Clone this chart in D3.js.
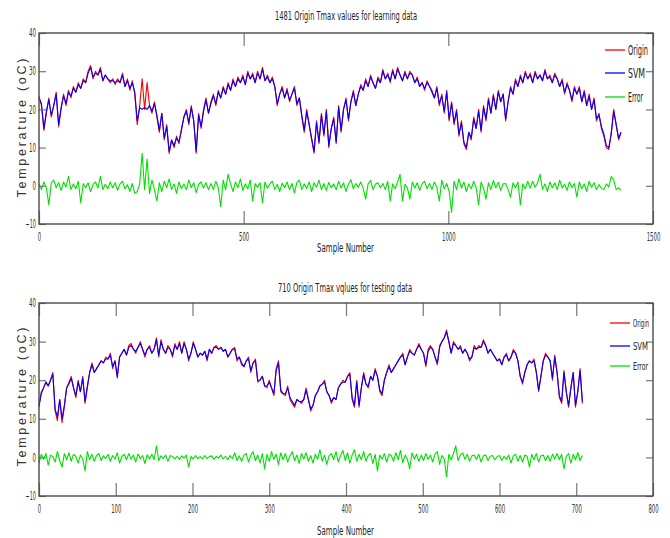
<!DOCTYPE html>
<html>
<head>
<meta charset="utf-8">
<script src="https://cdn.jsdelivr.net/npm/d3@7"></script>
<style>
  body { margin: 0; background: #fff; }
  svg { display: block; }
</style>
</head>
<body>
<svg id="chart" width="670" height="538"></svg>
<script>
// learning data: one value every 6 samples (0..1422)
const learnStep = 6;
const learnOrigin = [
  23.5, 21, 14.5, 19, 23, 18, 21, 24.5, 15.5, 20,
  24, 21, 25, 23, 26, 24.5, 27, 25.5, 28, 27,
  30, 31.5, 28, 30, 29, 31, 27.5, 29, 28, 27,
  28, 26.5, 28, 27, 29.5, 26, 28, 25, 27.5, 24,
  16, 21, 28, 20, 27, 21, 19, 22, 18, 14,
  19, 12, 16, 8.5, 12, 10, 13, 11, 15, 18,
  20, 16, 21, 17, 8.5, 19, 15, 20, 23, 19,
  22, 24, 21, 25, 23, 26, 24, 27, 25, 28,
  26, 28.5, 27, 29, 26.5, 30, 28, 29.5, 27, 30,
  28, 31, 27.5, 29, 27, 28.5, 26, 21, 24, 26,
  23, 25.5, 22, 24, 26, 21, 23, 18, 14, 20,
  16, 12, 8.5, 17, 11, 19, 13, 20, 10, 15,
  18, 11, 21, 14, 20, 23, 17, 22, 25, 21,
  24, 26.5, 25, 28, 26, 29, 27, 25.5, 28.5, 27,
  30.5, 28, 29.5, 27, 30.5, 28, 31, 29, 27.5, 30,
  28, 30, 29, 27, 28.5, 26, 27, 25, 27.5, 26,
  25, 23, 26, 21, 24, 19, 25, 17, 22, 16,
  20, 13, 17, 11, 9.5, 14, 12, 18, 15, 20,
  14, 21, 17, 23, 19, 24, 20, 25, 22, 24,
  17, 22, 26, 24, 28, 26, 29, 27, 30, 28,
  29.5, 27, 30, 28, 29, 27.5, 30.5, 28, 29, 27,
  29.5, 28, 26, 28, 24, 27, 25, 22, 26, 24,
  26, 22, 25, 21, 24, 20, 23, 17, 19, 15,
  13, 10, 9.5, 14, 20, 16, 12, 14
];
const learnSVM = [
  23, 21.5, 15, 19.5, 22.5, 18.5, 21, 24, 16, 20.5,
  23.5, 21.5, 24.5, 23.5, 25.5, 24.5, 26.5, 25.5, 27.5, 27,
  29.5, 31, 28.5, 29.5, 29, 30.5, 27.5, 29, 28, 27.5,
  27.5, 27, 27.5, 27, 29, 26, 27.5, 25.5, 27, 24.5,
  17, 20.5, 20, 20.5, 20, 21, 19.5, 21.5, 18.5, 14.5,
  19, 12.5, 15.5, 9, 12, 10.5, 12.5, 11.5, 14.5, 18,
  19.5, 16.5, 20.5, 17, 9, 18.5, 15.5, 19.5, 22.5, 19,
  21.5, 23.5, 21.5, 24.5, 23, 25.5, 24, 26.5, 25, 27.5,
  26, 28, 27, 28.5, 26.5, 29.5, 28, 29, 27, 29.5,
  28, 30.5, 27.5, 28.5, 27, 28, 26, 21.5, 24, 25.5,
  23, 25, 22.5, 24, 25.5, 21.5, 23, 18.5, 14.5, 19.5,
  16, 12.5, 9, 16.5, 11.5, 18.5, 13.5, 19.5, 10.5, 15,
  17.5, 11.5, 20.5, 14.5, 20, 22.5, 17.5, 22, 24.5, 21,
  24, 26, 25, 27.5, 26, 28.5, 27, 25.5, 28, 27,
  30, 28, 29, 27.5, 30, 28, 30.5, 29, 27.5, 29.5,
  28, 29.5, 29, 27, 28, 26, 27, 25.5, 27, 26,
  24.5, 23, 25.5, 21.5, 23.5, 19.5, 24.5, 17.5, 21.5, 16.5,
  19.5, 13.5, 16.5, 11.5, 10, 14, 12.5, 17.5, 15, 19.5,
  14.5, 20.5, 17.5, 22.5, 19, 23.5, 20, 24.5, 22, 24,
  17.5, 22, 25.5, 24, 27.5, 26, 28.5, 27, 29.5, 28,
  29, 27, 29.5, 28, 29, 27.5, 30, 28, 28.5, 27,
  29, 28, 26, 27.5, 24.5, 26.5, 25, 22.5, 25.5, 24,
  25.5, 22, 24.5, 21, 23.5, 20, 22.5, 17.5, 18.5, 15.5,
  13.5, 10.5, 10, 13.5, 19.5, 16, 12.5, 14
];
const learnError = [
  0.5, -1, 1, -0.5, -5, 0.8, 1.5, -0.5, 0.8, -1.2,
  1, -0.3, 2.5, -1, 0.5, -0.8, 1.2, -4.5, 0.6, -0.5,
  0.8, -1.5, 0.3, 1, -0.6, 2.5, -1, 0.4, -0.8, 1,
  -0.5, 0.8, -1.2, 0.5, 1.2, -0.8, 0.3, -1.5, 0.6, -2,
  -1.5, 0.5, 8.5, -1, 7, -2, 1.5, -1, -4, 0.8,
  -1.5, 1.2, -0.5, 1.8, -1, 0.5, -2, 1, -0.8, 0.5,
  -1, 1.5, -0.5, 0.8, -1.8, 0.4, 1, -0.6, 0.8, -1,
  0.6, -1, 1.2, -0.5, -5.5, 1.5, -1, 3, 0.5, -1.5,
  1, -0.5, 1.8, -1.2, 0.5, -0.8, 1.5, -4, 0.6, -0.4,
  0.8, -4.5, 1, -0.6, 0.5, 1.2, -1, 0.4, -1.5, 0.7,
  -0.5, 1, -1, 0.6, -1.8, 0.8, 1.5, -1, 0.5, -0.7,
  1, -1.5, 0.8, -0.4, 1.5, -1, 0.6, -1.2, 0.9, -0.5,
  0.5, -1, 1.2, -0.6, 0.8, -1.5, 0.4, 1.6, -0.8, 0.6,
  -0.4, 1, -0.6, -3.5, 0.5, 1.4, -1, 0.4, 0.8, -0.5,
  0.6, -1, 1.2, -4, 0.5, -0.8, 1, 3, -4, 0.4,
  -0.5, -3.5, 1, -0.6, 0.8, -1.2, 0.5, 1.2, -0.8, 0.6,
  -1, 1, -0.4, -4, 1.5, -0.8, 0.6, -1.5, -7, 1.2,
  -1, 1.8, -0.6, 1, -1.5, 0.5, -0.8, 1.2, -0.5, -5,
  1, -0.6, -3.5, 0.8, -1, 1.4, -0.5, 0.9, -1.2, 0.5,
  0.6, -1, -3, 0.8, -0.5, 1, -5, 0.5, -0.8, 1.2,
  -0.6, 1.2, -0.4, 0.8, 3, -1, 0.5, -1.5, 1, -0.5,
  0.8, -1, 1.5, -0.6, 0.4, -1.2, 1, -0.5, 0.6, -3,
  1, -0.8, 0.5, -1.5, 1.2, -0.4, 0.8, -1, 0.3, -0.6,
  -1, 0.5, -0.3, 2.5, 1.5, -1, -0.5, -1.2
];

// testing data: one value every 3 samples (0..708)
const testStep = 3;
const testOrigin = [
  13, 17, 18, 19.5, 18.5, 20, 22, 12, 9.5, 15,
  9, 13, 18, 19.5, 21, 18, 15.5, 20, 17, 21,
  14, 18, 22, 24.5, 22, 23, 24, 25, 24.5, 26,
  25.5, 27, 23, 25, 20.5, 26, 27, 28, 26.5, 29,
  29.5, 28, 27, 28.5, 30, 28, 26, 28, 29, 27,
  28, 31, 26, 30.5, 28, 27, 29, 28, 26, 29.5,
  28, 30, 27, 30, 28, 25, 27, 30, 28, 26,
  27, 26.5, 27.5, 25, 28, 27, 28.5, 29, 28, 28.5,
  27.5, 28, 26, 27, 28, 28.5, 25, 26, 24, 23.5,
  25, 26, 22, 24.5, 25.5, 19.5, 20, 21, 18.5, 18,
  20, 18, 16, 23, 25, 17, 16.5, 16, 18.5, 15,
  14, 13, 15, 14.5, 14, 15, 18, 15, 12, 13.5,
  16, 17, 18.5, 19, 20, 17, 16, 14, 15.5, 15,
  18, 19, 20, 19.5, 21, 22, 15, 13, 20, 13,
  18, 22, 19, 18, 21, 20, 23, 21, 17, 16,
  20, 22, 24, 22, 23, 24, 25, 26, 27, 24,
  26, 28, 27, 26.5, 28, 29.5, 28, 27, 23.5, 28,
  29, 28, 26, 24, 29, 30, 31, 33, 30, 27,
  30, 29, 28, 29, 27, 28, 27, 25, 26, 29,
  28, 29, 28.5, 30.5, 29, 27, 28, 27, 26, 25,
  25.5, 24, 26, 27, 25, 26, 28, 27, 25, 21,
  19, 22, 24, 25, 24.5, 25.5, 22, 17, 21, 25,
  27, 26, 25, 20, 26.5, 22, 15.5, 14, 22.5, 17,
  13, 18, 22, 13, 17, 23, 14
];
const testSVM = [
  13.5, 16.5, 18, 19.5, 18.5, 20, 21.5, 12.5, 10.5, 15,
  10, 13.5, 18, 19, 20.5, 18, 16, 19.5, 17, 20.5,
  14.5, 18.5, 22, 24, 22, 23, 24, 25, 24.5, 25.5,
  25.5, 26.5, 23.5, 25, 21, 26, 27, 28, 26.5, 28.5,
  29, 28, 27.5, 28.5, 29.5, 28, 26.5, 28, 28.5, 27,
  28, 30.5, 26.5, 30, 28, 27, 28.5, 28, 26.5, 29,
  28, 29.5, 27, 29.5, 28, 25.5, 27, 29.5, 28, 26,
  27, 26.5, 27.5, 25.5, 28, 27, 28.5, 28.5, 28, 28.5,
  27.5, 28, 26, 27, 28, 28, 25.5, 26, 24.5, 23.5,
  25, 25.5, 22.5, 24.5, 25, 20, 20, 21, 18.5, 18.5,
  19.5, 18, 16.5, 22.5, 24.5, 17.5, 16.5, 16.5, 18, 15.5,
  14.5, 13.5, 15, 14.5, 14.5, 15, 17.5, 15, 12.5, 13.5,
  16, 17, 18.5, 19, 19.5, 17, 16, 14.5, 15.5, 15,
  18, 19, 19.5, 19.5, 21, 21.5, 15.5, 13.5, 19.5, 13.5,
  18, 21.5, 19, 18.5, 21, 20, 22.5, 21, 17.5, 16.5,
  20, 22, 23.5, 22, 23, 24, 25, 26, 26.5, 24,
  26, 27.5, 27, 26.5, 28, 29, 28, 27, 24, 27.5,
  28.5, 28, 26, 24.5, 28.5, 30, 31, 32.5, 30, 27,
  29.5, 29, 28, 28.5, 27, 28, 27, 25.5, 26, 28.5,
  28, 28.5, 28.5, 30, 29, 27, 28, 27, 26, 25,
  25.5, 24, 26, 26.5, 25, 26, 27.5, 27, 25, 21,
  19.5, 22, 24, 25, 24.5, 25, 22, 17.5, 21, 25,
  26.5, 26, 25, 20.5, 26, 22, 16, 14.5, 22, 17,
  13.5, 18, 22, 13.5, 17, 22.5, 14.5
];
const testError = [
  -1.5, 0.8, -0.5, 1, -2, 0.6, 0.2, -1.2, 1.5, -0.8,
  -2.5, 1, -0.6, 1.2, -1, 0.8, 0.3, -1.5, 0.6, -0.4,
  -3.5, 1.5, -0.6, 0.8, -1, 0.5, 1, -0.8, 0.4, -0.3,
  0.8, -1, 0.5, -0.4, 1.2, -1.5, 0.3, 0.8, -0.6, 1,
  -0.5, 0.6, -1.2, 0.9, -0.3, 0.5, -1.6, 0.7, -0.4, 0.8,
  -0.6, 3, -0.8, 0.4, -0.3, 0.6, -1, 0.5, 0.2, -0.4,
  0.3, -0.5, 0.4, -0.2, 0.6, -2.5, 0.3, -0.4, 0.5, -0.3,
  0.2, -0.4, 0.5, -0.3, 0.2, 0.4, -0.5, 0.3, -0.2, 0.6,
  -0.4, 0.3, -0.6, 0.5, -0.3, 1.2, -0.8, 0.4, -1, 0.6,
  1, -1.2, 0.5, 1.5, -0.8, 0.6, -1.5, 1, -3, 0.8,
  -1, 1.5, -0.5, 0.8, -1.8, 1.2, -0.6, 1, -1.2, 0.4,
  1.5, -0.8, 0.6, -1.6, 1, -0.4, 1.2, -1, 0.5, -1.5,
  0.8, -0.5, 2, -1, 0.6, -1.8, 0.4, 1, -0.6, 1.5,
  -1.2, 0.5, 1.8, -0.8, 1.2, -1.5, 0.6, 2, -1, 0.8,
  -0.6, 1.5, -1, 0.5, 1, -1.6, 0.8, -3.5, 0.6, -0.5,
  1, -1.2, 0.8, 0.5, -1, 1.2, -0.6, 1.8, -1.4, 0.6,
  -0.5, -3, 1.2, -0.4, 0.8, -1, 0.6, -0.8, 1, -0.5,
  0.6, -1.2, 0.8, 1.5, -1.8, 0.5, -0.4, -5, 0.8, -0.6,
  1, 3, -0.8, 0.6, 1.2, -0.5, 0.8, -1, 0.4, 0.6,
  -0.5, 0.8, -1.2, 0.4, 0.6, -0.8, 0.3, 0.5, -0.6, 0.2,
  0.5, -0.8, 0.3, -0.5, 0.6, -1.5, 0.4, 0.8, -1, 0.5,
  -1.2, 0.6, 0.3, -2.5, 0.8, -0.6, 1, -1.2, 0.4, 0.6,
  -0.8, 0.5, -1, 0.8, -0.4, 1, -0.6, 0.8, -3, 0.3,
  1, -1.5, 0.8, -0.6, 1.2, -0.8, 0.5
];

const seriesNames = ["Origin", "SVM", "Error"];
const seriesColors = ["#ff0000", "#0000ff", "#00e000"];
const yTicks = [-10, 0, 10, 20, 30, 40];
const learnXTicks = [0, 500, 1000, 1500];
const testXTicks = [0, 100, 200, 300, 400, 500, 600, 700, 800];

const narrow = "'Liberation Sans Narrow', 'DejaVu Sans Condensed', 'Liberation Sans', sans-serif";
const svg = d3.select("#chart");

function drawPanel(opt) {
  const x = d3.scaleLinear().domain(opt.xDomain).range([39, 653]);
  const y = d3.scaleLinear().domain([-10, 40]).range([opt.bottom, opt.top]);
  const g = svg.append("g");

  // lines
  const series = [opt.origin, opt.svm, opt.error];
  series.forEach((vals, k) => {
    const line = d3.line()
      .x((d, i) => x(i * opt.step))
      .y(d => y(d));
    g.append("path")
      .attr("d", line(vals))
      .attr("fill", "none")
      .attr("stroke", seriesColors[k])
      .attr("stroke-width", 1.1)
      .attr("stroke-linejoin", "round");
  });

  // axes: ticks pointing inward on all four sides
  const styleAxis = a => {
    a.select(".domain").remove();
    a.selectAll(".tick line").attr("stroke", "#777").attr("stroke-width", 1.2);
  };
  const xb = g.append("g").attr("transform", `translate(0,${opt.bottom})`)
    .call(d3.axisBottom(x).tickValues(opt.xTicks).tickFormat(d3.format("d"))
      .tickSizeInner(-13).tickSizeOuter(0).tickPadding(8));
  styleAxis(xb);
  xb.selectAll("text")
    .attr("font-family", narrow).attr("font-size", 12).attr("fill", "#333")
    .attr("textLength", d => String(d).length * 3.4).attr("lengthAdjust", "spacingAndGlyphs");
  const xt = g.append("g").attr("transform", `translate(0,${opt.top})`)
    .call(d3.axisTop(x).tickValues(opt.xTicks).tickSizeInner(-13).tickSizeOuter(0).tickFormat(""));
  styleAxis(xt);
  const yl = g.append("g").attr("transform", "translate(39,0)")
    .call(d3.axisLeft(y).tickValues(yTicks).tickSizeInner(-7).tickSizeOuter(0).tickPadding(3));
  styleAxis(yl);
  yl.selectAll("text")
    .attr("font-family", narrow).attr("font-size", 11.5).attr("fill", "#333")
    .attr("textLength", d => String(d).length * 3.5).attr("lengthAdjust", "spacingAndGlyphs");
  const yr = g.append("g").attr("transform", "translate(653,0)")
    .call(d3.axisRight(y).tickValues(yTicks).tickSizeInner(-7).tickSizeOuter(0).tickFormat(""));
  styleAxis(yr);

  // box
  g.append("rect")
    .attr("x", 39).attr("y", opt.top)
    .attr("width", 614).attr("height", opt.bottom - opt.top)
    .attr("fill", "none").attr("stroke", "#4a4a4a").attr("stroke-width", 1.4);

  // titles
  g.append("text")
    .attr("x", opt.titleX).attr("y", opt.titleY)
    .attr("font-family", narrow).attr("font-size", 13).attr("fill", "#222")
    .attr("textLength", opt.titleW).attr("lengthAdjust", "spacingAndGlyphs")
    .text(opt.title);
  g.append("text")
    .attr("x", 317).attr("y", opt.xLabelY)
    .attr("font-family", narrow).attr("font-size", 13).attr("fill", "#222")
    .attr("textLength", 57).attr("lengthAdjust", "spacingAndGlyphs")
    .text("Sample Number");
  g.append("text")
    .attr("transform", `translate(26,${opt.yLabelC}) rotate(-90)`)
    .attr("text-anchor", "middle")
    .attr("font-family", "'Liberation Sans', Arial, sans-serif").attr("font-size", 12.5).attr("fill", "#333")
    .attr("textLength", 139).attr("lengthAdjust", "spacing")
    .text("Temperature (oC)");

  // legend
  const lg = g.append("g");
  seriesNames.forEach((name, k) => {
    const ly = opt.legY[k];
    lg.append("line")
      .attr("x1", opt.legX).attr("x2", opt.legX + 20)
      .attr("y1", ly).attr("y2", ly)
      .attr("stroke", seriesColors[k]).attr("stroke-width", 1.3);
    lg.append("text")
      .attr("x", opt.legX + 23).attr("y", ly + opt.legFont * 0.36)
      .attr("font-family", narrow).attr("font-size", opt.legFont).attr("fill", "#222")
      .attr("textLength", opt.legW[k]).attr("lengthAdjust", "spacingAndGlyphs")
      .text(name);
  });
}

drawPanel({
  origin: learnOrigin, svm: learnSVM, error: learnError, step: learnStep,
  xDomain: [0, 1500], xTicks: learnXTicks, top: 33, bottom: 224,
  title: "1481 Origin Tmax values for learning data", titleX: 275, titleY: 20, titleW: 142,
  xLabelY: 252, yLabelC: 128,
  legX: 605, legY: [50, 73, 97], legFont: 14, legW: [20, 17, 15]
});

drawPanel({
  origin: testOrigin, svm: testSVM, error: testError, step: testStep,
  xDomain: [0, 800], xTicks: testXTicks, top: 303, bottom: 496,
  title: "710 Origin Tmax vqlues for testing data", titleX: 278, titleY: 292, titleW: 134,
  xLabelY: 535, yLabelC: 397,
  legX: 610, legY: [323, 346, 366], legFont: 11, legW: [16, 15, 15]
});
</script>
</body>
</html>
